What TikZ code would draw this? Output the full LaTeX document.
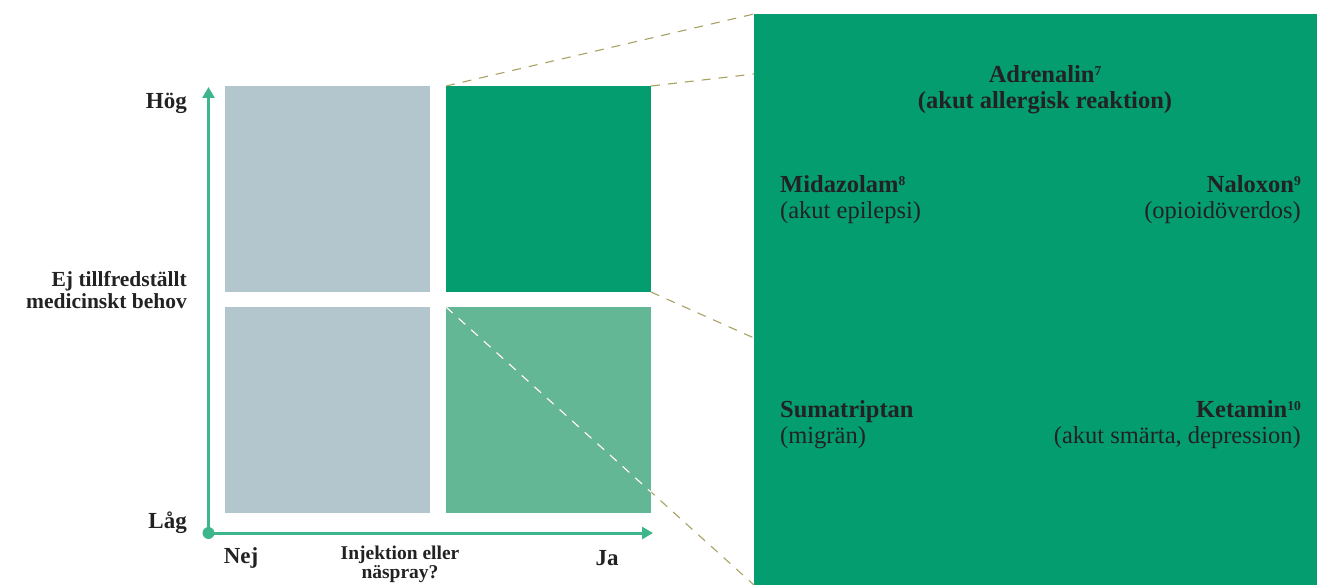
\documentclass[tikz,border=0pt]{standalone}
\usepackage{fontspec}
\setmainfont{Liberation Serif}
\usetikzlibrary{arrows.meta}
\definecolor{boxgrey}{HTML}{B4C6CD}
\definecolor{dgreen}{HTML}{049D6F}
\definecolor{lgreen}{HTML}{63B795}
\definecolor{axisgreen}{HTML}{3DB68C}
\definecolor{dashol}{HTML}{A8A262}
\definecolor{txt}{HTML}{222222}
\newcommand{\supnum}[1]{\raisebox{0.3em}{\fontsize{13.5}{13.5}\selectfont #1}}
\tikzset{
  zoomline/.style={dashol, line width=1.1pt, dash pattern=on 9pt off 8pt},
  axisline/.style={axisgreen, line width=3pt, -{Triangle[length=11pt,width=12pt]}},
  lbl/.style={text=txt, font=\fontsize{23}{26}\selectfont\bfseries, inner sep=0pt},
  paneltext/.style={text=txt, inner sep=0pt, font=\fontsize{24.5}{26}\selectfont},
}
\begin{document}
\begin{tikzpicture}[x=1pt,y=-1pt]
\useasboundingbox (0,0) rectangle (1317,585);
% zoom panel
\path[fill=dgreen] (754,14) rectangle (1317,585);
\coordinate (pTL) at (754,14);
\coordinate (pA) at (754,74);
\coordinate (pB) at (754,338);
\coordinate (pBL) at (754,585);
% quadrants
\fill[boxgrey] (225,86) rectangle (430,292);
\fill[dgreen] (446,86) rectangle (651,292);
\fill[boxgrey] (225,307) rectangle (430,513);
\fill[lgreen] (446,307) rectangle (651,513);
\coordinate (qTL) at (446,86);
\coordinate (qTR) at (651,86);
\coordinate (qBR) at (651,292);
\coordinate (qLL) at (446,307);
% zoom lines
\draw[zoomline] (qTL) -- (pTL);
\draw[zoomline] (qTR) -- (pA);
\draw[zoomline] (qBR) -- (pB);
\draw[zoomline] (qLL) -- (pBL);
\begin{scope}
\clip (446,307) rectangle (651,513);
\draw[zoomline, white] (qLL) -- (pBL);
\end{scope}
% axes
\coordinate (origin) at (208.5,533);
\coordinate (ytip) at (208.5,87);
\coordinate (xtip) at (653,533);
\draw[axisline] (origin) -- (ytip);
\draw[axisline] (origin) -- (xtip);
\fill[axisgreen] (origin) circle (6pt);
% axis labels
\node[lbl, anchor=east] (hog) at (187,103) {Hög};
\node[lbl, anchor=east] (lag) at (187,523) {Låg};
\node[lbl, anchor=east, align=right, font=\fontsize{21.5}{22}\selectfont\bfseries] (ylab) at (187,290) {Ej tillfredställt\\medicinskt behov};
\node[lbl] (nej) at (241,558) {Nej};
\node[lbl] (ja) at (607,558) {Ja};
\node[lbl, align=center, font=\fontsize{19.5}{19}\selectfont\bfseries] (xlab) at (400,564) {Injektion eller\\näspray?};
% panel texts
\node[paneltext, align=center, font=\fontsize{24.5}{26}\selectfont\bfseries] (adr) at (1045,90) {Adrenalin\supnum{7}\\(akut allergisk reaktion)};
\node[paneltext, align=left, anchor=west] (mid) at (780,200) {\textbf{Midazolam\supnum{8}}\\(akut epilepsi)};
\node[paneltext, align=right, anchor=east] (nal) at (1301,200) {\textbf{Naloxon\supnum{9}}\\(opioidöverdos)};
\node[paneltext, align=left, anchor=west] (sum) at (780,425) {\textbf{Sumatriptan}\\(migrän)};
\node[paneltext, align=right, anchor=east] (ket) at (1301,425) {\textbf{Ketamin\supnum{10}}\\(akut smärta, depression)};
\end{tikzpicture}
\end{document}
